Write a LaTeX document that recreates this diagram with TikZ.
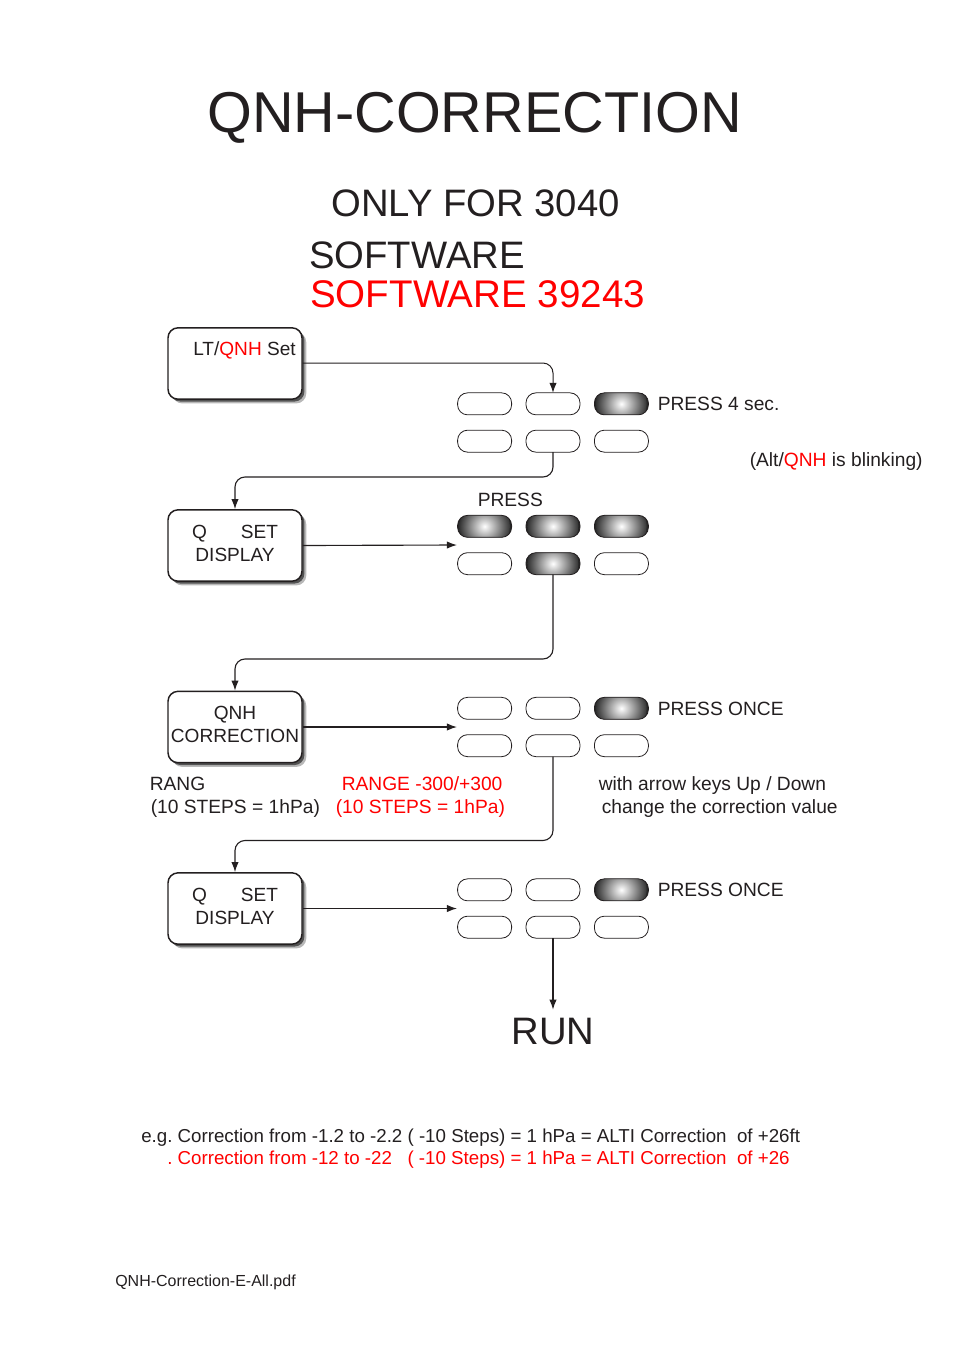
\documentclass[tikz,border=0pt]{standalone}
\usepackage{fontspec}
\setmainfont{Liberation Sans}
\usetikzlibrary{matrix,shadows,arrows.meta}
\definecolor{inkblack}{HTML}{231F20}
\newcommand{\qnh}{\textcolor{red}{QNH}}
\tikzset{
    >={Latex[length=7.5pt,width=5.5pt]},
    lbl/.style={anchor=base west,inner sep=0pt,text=inkblack,font=\fontsize{14.4}{17.25}\selectfont},
    redlbl/.style={lbl,text=red},
    smalllbl/.style={lbl,font=\fontsize{14.04}{17}\selectfont},
    big/.style={lbl,font=\fontsize{28.7}{34}\selectfont},
    modebox/.style={draw=inkblack,line width=1.1pt,fill=white,rounded corners=7.5pt,
        minimum width=100.5pt,minimum height=53.5pt,inner sep=0pt,
        general shadow={shadow xshift=3.2pt,shadow yshift=-3.2pt,fill=black,opacity=.28},
        general shadow={shadow xshift=1.8pt,shadow yshift=-1.8pt,fill=black,opacity=.55}},
    boxtext/.style={inner sep=0pt,align=center,text=inkblack,font=\fontsize{14.3}{17.25}\selectfont},
    btn/.style={draw=inkblack,line width=.6pt,rounded corners=7.5pt,outer sep=0pt,
        minimum width=40.5pt,minimum height=16.5pt,inner sep=0pt},
    lit/.style={fill=black!85,path picture={\shade[inner color=white,outer color=black!85]
        (path picture bounding box.center) circle (19pt);}},
    panel/.style={matrix of nodes,inner sep=0pt,column sep=10.2pt,row sep=10.9pt,nodes={btn}},
    link/.style={draw=inkblack,line width=.85pt,rounded corners=7.5pt}
}
\begin{document}
\frenchspacing
\begin{tikzpicture}[x=.75pt,y=-.75pt]
        \useasboundingbox (0,0) rectangle (954,1350);

        \node[lbl,anchor=base,font=\fontsize{43.2}{50}\selectfont] (title) at (474.5,132) {QNH-CORRECTION};
        \node[big] (only) at (331,216.5) {ONLY FOR 3040};
        \node[big] (soft) at (309,268.5) {SOFTWARE};
        \node[big,text=red,font=\fontsize{28.9}{34}\selectfont] (softred) at (310,307.5) {SOFTWARE 39243};

        \node[modebox] (LT) at (235,363.5) {};
        \node[modebox] (Q1) at (235,545.5) {};
        \node[modebox] (C) at (235,727) {};
        \node[modebox] (Q2) at (235,908.5) {};
        \node[lbl,font=\fontsize{14.3}{17.25}\selectfont] (ltlabel) at (193,355) {LT/\qnh{} Set};
        \node[boxtext] (q1text) at (235,543) {Q\hspace{25.5pt}SET\\DISPLAY};
        \node[boxtext] (ctext) at (235,724.5) {QNH\\CORRECTION};
        \node[boxtext] (q2text) at (235,906) {Q\hspace{25.5pt}SET\\DISPLAY};

        \matrix (P1) [panel] at (553,422.5) {
            \mbox{}& \mbox{}& |[lit]|\mbox{}\\
            \mbox{}& \mbox{}& \mbox{}\\
        };
        \matrix (P2) [panel] at (553,545) {
            |[lit]|\mbox{}& |[lit]|\mbox{}& |[lit]|\mbox{}\\
            \mbox{}& |[lit]|\mbox{}& \mbox{}\\
        };
        \matrix (P3) [panel] at (553,727) {
            \mbox{}& \mbox{}& |[lit]|\mbox{}\\
            \mbox{}& \mbox{}& \mbox{}\\
        };
        \matrix (P4) [panel] at (553,908.5) {
            \mbox{}& \mbox{}& |[lit]|\mbox{}\\
            \mbox{}& \mbox{}& \mbox{}\\
        };

        \node[lbl] (p4sec) at (657.5,410) {PRESS 4 sec.};
        \node[lbl] (blink) at (749.5,466) {(Alt/\qnh{} is blinking)};
        \node[lbl] (press) at (477.5,506) {PRESS};
        \node[lbl] (once1) at (657.5,715) {PRESS ONCE};
        \node[lbl] (once2) at (657.5,896) {PRESS ONCE};
        \node[lbl] (rang) at (149.5,790) {RANG};
        \node[lbl] (steps) at (150.5,813) {(10 STEPS = 1hPa)};
        \node[redlbl] (rangred) at (341.5,790) {RANGE -300/+300};
        \node[redlbl] (stepsred) at (335.5,813) {(10 STEPS = 1hPa)};
        \node[lbl] (keys) at (598.5,790) {with arrow keys Up / Down};
        \node[lbl] (value) at (601.5,813) {change the correction value};
        \node[lbl,anchor=base,font=\fontsize{28.7}{34}\selectfont,outer sep=6pt] (run) at (553,1044) {RUN};
        \node[smalllbl] (eg) at (141,1142) {e.g. Correction from -1.2 to -2.2 ( -10 Steps) = 1 hPa = ALTI Correction\ \ of +26ft};
        \node[smalllbl,text=red] (egred) at (167,1164) {. Correction from -12 to -22\ \ \ ( -10 Steps) = 1 hPa = ALTI Correction\ \ of +26};
        \node[lbl,font=\fontsize{12}{14}\selectfont] (file) at (115,1286) {QNH-Correction-E-All.pdf};

        \coordinate (turn1) at (553,363);
        \coordinate (turn2) at (400,477);
        \coordinate (turn3) at (400,659);
        \coordinate (turn4) at (400,840.5);

        \draw[link,->,line width=.75pt] (LT.east |- turn1) -- (turn1) -- (P1-1-2.north);
        \draw[link,->] (P1-2-2.south) |- (turn2) -| (Q1.north);
        \draw[link,->] (Q1.east) -- (P2.west);
        \draw[link,->] (P2-2-2.south) |- (turn3) -| (C.north);
        \draw[link,->] (C.east) -- (P3.west);
        \draw[link,->] (P3-2-2.south) |- (turn4) -| (Q2.north);
        \draw[link,->] (Q2.east) -- (P4.west);
        \draw[link,->] (P4-2-2.south) -- (run);
    \end{tikzpicture}
\end{document}
